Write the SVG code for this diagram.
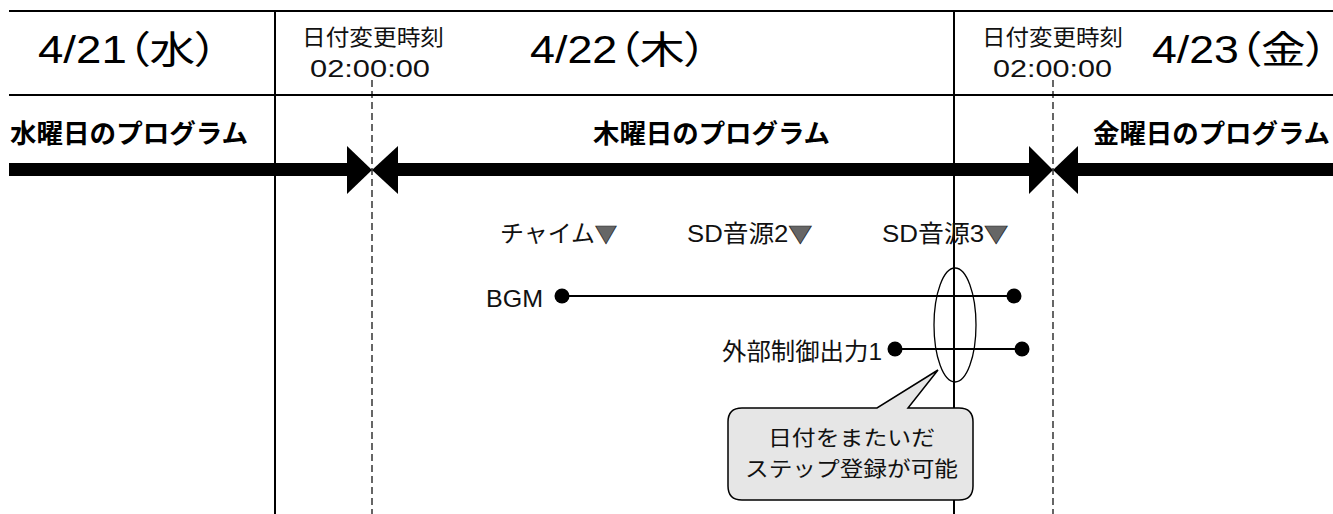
<svg xmlns="http://www.w3.org/2000/svg" width="1333" height="514" viewBox="0 0 1333 514">
<style>
text{font-family:"Liberation Sans","Noto Sans CJK JP",sans-serif;fill:#000}
.date{font-size:38px;font-feature-settings:"palt"}
.chg{font-size:22px;fill:#111}
.time{font-size:24px;fill:#111}
.prog{font-size:26px;font-weight:bold;font-family:"Noto Sans CJK JP",sans-serif}
.lbl{font-size:24px;fill:#111}
.cj{font-size:21px;fill:#111;font-family:"Noto Sans CJK JP",sans-serif}
.tri{fill:#666;stroke:#222;stroke-width:0.7;font-family:"Noto Sans CJK JP",sans-serif;font-size:22px}
.frame{stroke:#000;stroke-width:2;fill:none}
.dash{stroke:#000;stroke-width:1.2;stroke-dasharray:7 4;fill:none}
.bar{fill:#000}
.wire{stroke:#000;stroke-width:2;fill:none}
.dot{fill:#000}
</style>
<rect width="1333" height="514" fill="#fff"/>
<g id="frame">
<line class="frame" x1="9" y1="11" x2="1333" y2="11"/>
<line class="frame" x1="9" y1="95" x2="1333" y2="95"/>
<line class="frame" x1="275" y1="11" x2="275" y2="514"/>
<line class="frame" x1="954" y1="11" x2="954" y2="514"/>
<line class="dash" x1="372" y1="80" x2="372" y2="514"/>
<line class="dash" x1="1053" y1="80" x2="1053" y2="514"/>
</g>
<g id="dates">
<text class="date" x="38" y="63" textLength="180" lengthAdjust="spacingAndGlyphs">4/21（水）</text>
<text class="date" x="530" y="63" textLength="177" lengthAdjust="spacingAndGlyphs">4/22（木）</text>
<text class="date" x="1152" y="63" textLength="176" lengthAdjust="spacingAndGlyphs">4/23（金）</text>
</g>
<g id="change-time-1">
<text class="chg" x="302" y="45" textLength="142" lengthAdjust="spacingAndGlyphs">日付変更時刻</text>
<text class="time" x="310" y="77" textLength="120" lengthAdjust="spacingAndGlyphs">02:00:00</text>
</g>
<g id="change-time-2">
<text class="chg" x="982" y="45" textLength="141" lengthAdjust="spacingAndGlyphs">日付変更時刻</text>
<text class="time" x="993" y="77" textLength="119" lengthAdjust="spacingAndGlyphs">02:00:00</text>
</g>
<g id="programs">
<text class="prog" x="10" y="143" textLength="238" lengthAdjust="spacingAndGlyphs">水曜日のプログラム</text>
<text class="prog" x="593" y="143" textLength="237" lengthAdjust="spacingAndGlyphs">木曜日のプログラム</text>
<text class="prog" x="1093" y="143" textLength="237" lengthAdjust="spacingAndGlyphs">金曜日のプログラム</text>
</g>
<g id="program-bars">
<rect class="bar" x="9" y="163" width="340" height="13"/>
<polygon class="bar" points="347,146 372,170 347,194"/>
<polygon class="bar" points="398,146 372,170 398,194"/>
<rect class="bar" x="396" y="163" width="635" height="13"/>
<polygon class="bar" points="1029,146 1053,170 1029,194"/>
<polygon class="bar" points="1078,146 1053,170 1078,194"/>
<rect class="bar" x="1076" y="163" width="257" height="13"/>
</g>
<g id="steps">
<text class="lbl" x="500" y="242" textLength="117" lengthAdjust="spacingAndGlyphs">チャイム<tspan class="tri">▼</tspan></text>
<text class="lbl" x="687" y="242" textLength="125" lengthAdjust="spacingAndGlyphs">SD音源2<tspan class="tri">▼</tspan></text>
<text class="lbl" x="882" y="242" textLength="126" lengthAdjust="spacingAndGlyphs">SD音源3<tspan class="tri">▼</tspan></text>
</g>
<g id="connectors">
<line class="wire" x1="562" y1="296" x2="1014" y2="296"/>
<line class="wire" x1="895" y1="349" x2="1022" y2="349"/>
</g>
<g id="bgm">
<text class="lbl" x="486" y="307" textLength="57" lengthAdjust="spacingAndGlyphs">BGM</text>
<circle class="dot" cx="562" cy="296" r="7.5"/>
<circle class="dot" cx="1014" cy="296" r="7.5"/>
</g>
<g id="ext-out">
<text class="lbl" x="722" y="360" textLength="160" lengthAdjust="spacingAndGlyphs">外部制御出力1</text>
<circle class="dot" cx="895" cy="349" r="7.5"/>
<circle class="dot" cx="1022" cy="349" r="7.5"/>
</g>
<g id="highlight">
<ellipse cx="955" cy="325" rx="21" ry="57" fill="none" stroke="#000" stroke-width="1.3"/>
</g>
<g id="callout">
<path d="M742,408 H877 L938,370 L908,408 H959 Q973,408 973,422 V486 Q973,500 959,500 H742 Q728,500 728,486 V422 Q728,408 742,408 Z" fill="#e6e6e6" stroke="#000" stroke-width="1.5"/>
<text class="cj" x="768" y="445" textLength="167" lengthAdjust="spacingAndGlyphs">日付をまたいだ</text>
<text class="cj" x="745" y="476" textLength="213" lengthAdjust="spacingAndGlyphs">ステップ登録が可能</text>
</g>
</svg>
